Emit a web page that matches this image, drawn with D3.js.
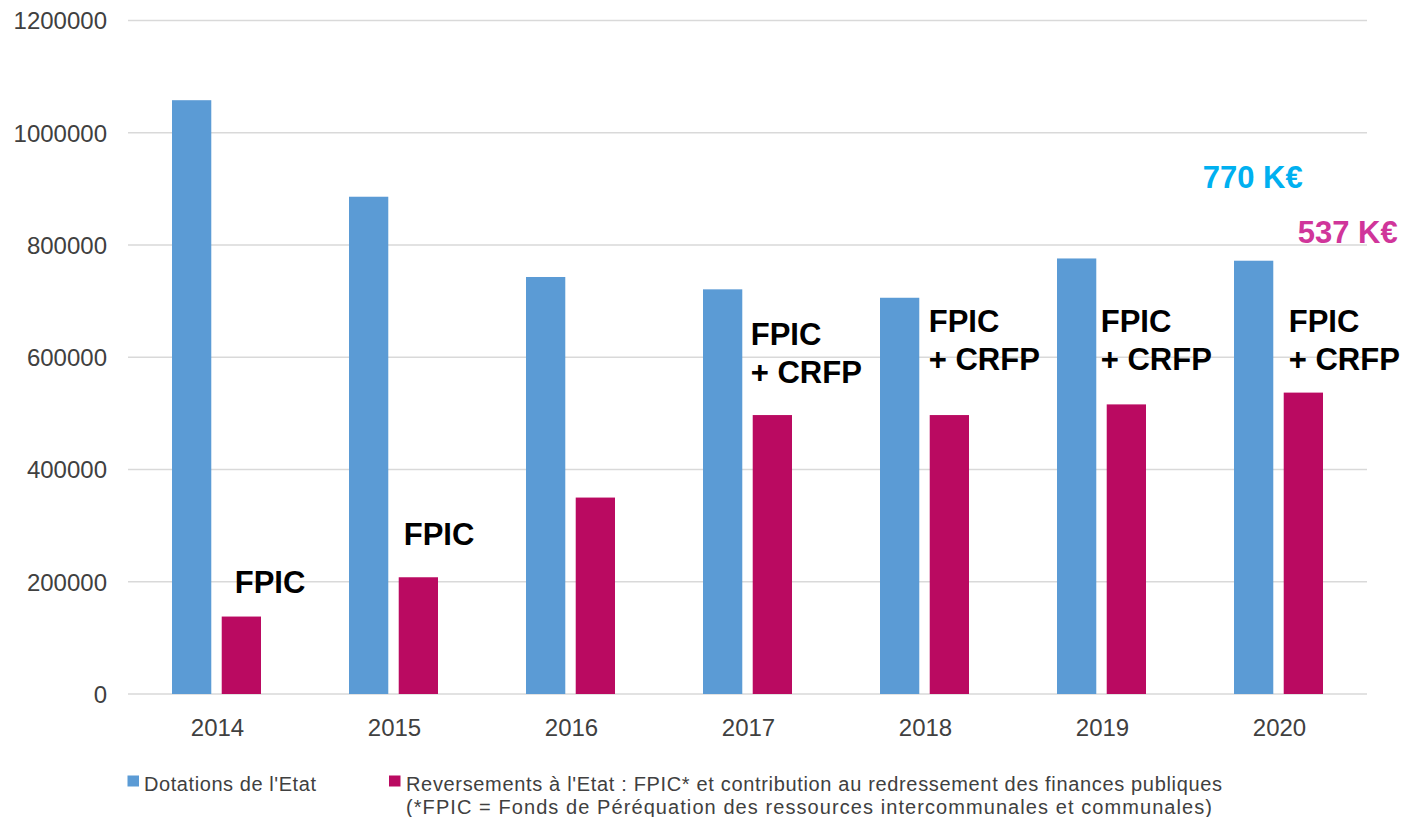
<!DOCTYPE html>
<html><head><meta charset="utf-8">
<script src="https://cdn.jsdelivr.net/npm/d3@7"></script>
<style>body{margin:0;background:#fff}svg{display:block}</style>
</head><body>
<svg id="c" width="1416" height="817"></svg>
<script>
const years = ["2014","2015","2016","2017","2018","2019","2020"];
const dotations = [1058000, 886000, 743000, 721000, 706000, 776000, 772000];
const reversements = [138000, 208000, 350000, 497000, 497000, 516000, 537000];
const yTicks = [0, 200000, 400000, 600000, 800000, 1000000, 1200000];
const seriesNames = ["Dotations de l'Etat", "Reversements à l'Etat : FPIC* et contribution au redressement des finances publiques"];
const legendNote = "(*FPIC = Fonds de Péréquation des ressources intercommunales et communales)";
const annYears = ["2014","2015","2017","2018","2019","2020"];
const annLines = [["FPIC"],["FPIC"],["FPIC","+ CRFP"],["FPIC","+ CRFP"],["FPIC","+ CRFP"],["FPIC","+ CRFP"]];
const annValues = [180000, 266000, 622000, 645000, 645000, 645000];
const totalLabels = ["770 K€", "537 K€"];
const totalValues = [902000, 804000];

const colors = ["#5B9BD5", "#BA0A61"];
const svg = d3.select("#c");
const pLeft = 128, pRight = 1367, pTop = 20.5, pBottom = 694;

const x0 = d3.scaleBand().domain(years).range([pLeft, pRight]).padding(0);
const bw = x0.bandwidth();
const x1 = d3.scaleBand().domain([0,1]).range([bw/2 - 44.5, bw/2 + 44.5]).paddingInner(0.21).paddingOuter(0);
const y = d3.scaleLinear().domain([0, 1200000]).range([pBottom, pTop]);

// gridlines
svg.append("g").selectAll("line").data(yTicks).join("line")
  .attr("x1", pLeft).attr("x2", pRight)
  .attr("y1", d => y(d)).attr("y2", d => y(d))
  .attr("stroke", "#D9D9D9").attr("stroke-width", 1.6);

// y axis labels
const yAxis = d3.axisLeft(y).tickValues(yTicks).tickSize(0).tickPadding(0).tickFormat(d3.format("d"));
const gy = svg.append("g").attr("transform", `translate(107,0)`).call(yAxis);
gy.select(".domain").remove();
gy.selectAll("text").attr("font-family", "Liberation Sans, Arial, sans-serif").attr("font-size", 24).attr("fill", "#404040").attr("dy", "0.35em");

// x axis labels
const xAxis = d3.axisBottom(x0).tickSize(0).tickPadding(0);
const gx = svg.append("g").attr("transform", `translate(1,${pBottom})`).call(xAxis);
gx.select(".domain").remove();
gx.selectAll("text").attr("font-family", "Liberation Sans, Arial, sans-serif").attr("font-size", 24).attr("fill", "#404040").attr("y", 42).attr("dy", 0);

// bars
const data = years.map((yr, i) => ({yr, vals: [dotations[i], reversements[i]]}));
const groups = svg.append("g").selectAll("g").data(data).join("g")
  .attr("transform", d => `translate(${x0(d.yr)},0)`);
groups.selectAll("rect").data(d => d.vals.map((v, k) => ({v, k}))).join("rect")
  .attr("x", d => x1(d.k)).attr("width", x1.bandwidth())
  .attr("y", d => y(d.v)).attr("height", d => y(0) - y(d.v))
  .attr("fill", d => colors[d.k]);

// annotations
const annDx = [13, 5, -2, -1, -6, 5];
annYears.forEach((yr, i) => {
  const t = svg.append("text")
    .attr("font-family", "Liberation Sans, Arial, sans-serif").attr("font-weight", "bold")
    .attr("font-size", 31).attr("fill", "#000");
  annLines[i].forEach((ln, j) => {
    t.append("tspan").attr("x", x0(yr) + x1(1) + annDx[i]).attr("y", y(annValues[i]) + j * 38).text(ln);
  });
});

// total labels
svg.append("text").attr("x", x0("2019") + x1(1) + 96).attr("y", y(totalValues[0]))
  .attr("font-family", "Liberation Sans, Arial, sans-serif").attr("font-weight", "bold")
  .attr("font-size", 31).attr("fill", "#00B0F0").text(totalLabels[0]);
svg.append("text").attr("x", x0("2020") + x1(1) + 14).attr("y", y(totalValues[1]))
  .attr("font-family", "Liberation Sans, Arial, sans-serif").attr("font-weight", "bold")
  .attr("font-size", 31).attr("fill", "#D0359A").text(totalLabels[1]);

// legend
const lg = svg.append("g").attr("font-family", "Liberation Sans, Arial, sans-serif").attr("font-size", 20).attr("fill", "#404040");
lg.append("rect").attr("x", 127.5).attr("y", 775.5).attr("width", 11.5).attr("height", 11).attr("fill", colors[0]);
lg.append("text").attr("x", 144).attr("y", 790.5).attr("textLength", 172).attr("lengthAdjust", "spacing").text(seriesNames[0]);
lg.append("rect").attr("x", 389).attr("y", 775.5).attr("width", 11.5).attr("height", 11).attr("fill", colors[1]);
lg.append("text").attr("x", 406).attr("y", 790.5).attr("textLength", 816).attr("lengthAdjust", "spacing").text(seriesNames[1]);
lg.append("text").attr("x", 406).attr("y", 814).attr("textLength", 806).attr("lengthAdjust", "spacing").text(legendNote);
</script>
</body></html>
